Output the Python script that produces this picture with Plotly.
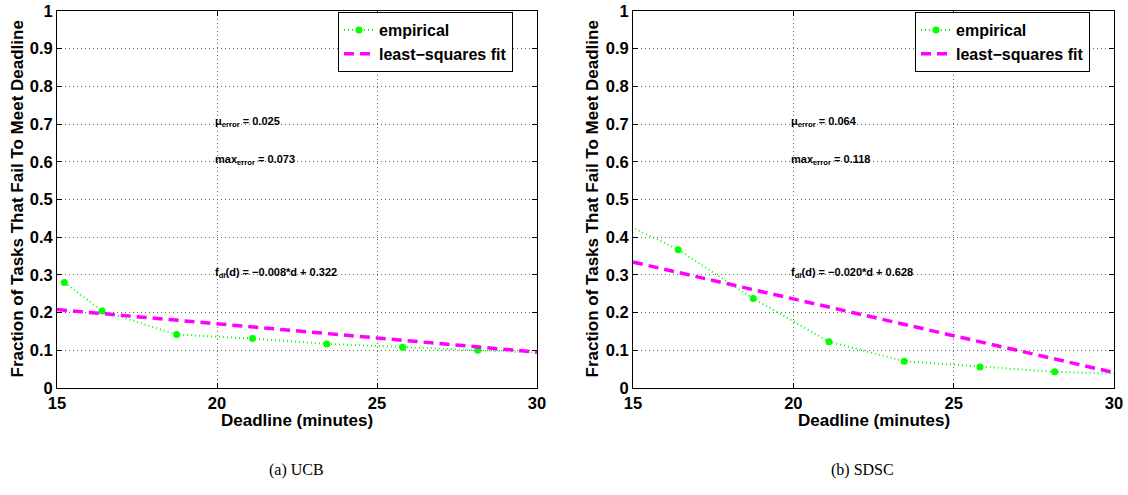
import plotly.graph_objects as go

# ---- data ----
ucb_deadline = [15.23, 16.41, 18.74, 21.11, 23.43, 25.80, 28.15, 30.50]
ucb_fail = [0.280, 0.204, 0.142, 0.131, 0.117, 0.108, 0.100, 0.093]
ucb_fit_x = [15, 30]
ucb_fit_y = [0.208, 0.095]

sdsc_deadline = [14.06, 16.41, 18.75, 21.11, 23.46, 25.82, 28.15, 30.50]
sdsc_fail = [0.464, 0.367, 0.2375, 0.123, 0.071, 0.056, 0.043, 0.037]
sdsc_fit_x = [15, 30]
sdsc_fit_y = [0.334, 0.041]

x_ticks = [15, 20, 25, 30]
y_ticks = [0, 0.1, 0.2, 0.3, 0.4, 0.5, 0.6, 0.7, 0.8, 0.9, 1]
y_tick_labels = ["0", "0.1", "0.2", "0.3", "0.4", "0.5", "0.6", "0.7", "0.8", "0.9", "1"]

ucb_stats = ["μ<sub>error</sub> = 0.025", "max<sub>error</sub> = 0.073",
             "f<sub>dl</sub>(d) = −0.008*d + 0.322"]
sdsc_stats = ["μ<sub>error</sub> = 0.064", "max<sub>error</sub> = 0.118",
              "f<sub>dl</sub>(d) = −0.020*d + 0.628"]
stat_y = [0.7, 0.6, 0.3]

captions = ["(a) UCB", "(b) SDSC"]
x_title = "Deadline (minutes)"
y_title = "Fraction of Tasks That Fail To Meet Deadline"
legend_names = ["empirical", "least−squares fit"]

GREEN = "#00ff00"
MAGENTA = "#ff00ff"
FONT = "Liberation Sans, Arial, sans-serif"

W, H = 1128, 495


def px(X):
    return X / W


def py(Y):
    return 1 - Y / H


fig = go.Figure()

panels = [
    (ucb_deadline, ucb_fail, ucb_fit_x, ucb_fit_y, "x", "y", "legend"),
    (sdsc_deadline, sdsc_fail, sdsc_fit_x, sdsc_fit_y, "x2", "y2", "legend2"),
]
for dx, dy, fx, fy, xa, ya, lg in panels:
    fig.add_trace(go.Scatter(
        x=dx, y=dy, mode="lines+markers", name="<b>" + legend_names[0] + "</b>",
        line=dict(color=GREEN, width=2, dash="1px,3px"),
        marker=dict(color=GREEN, size=7, symbol="circle"),
        xaxis=xa, yaxis=ya, legend=lg))
    fig.add_trace(go.Scatter(
        x=fx, y=fy, mode="lines", name="<b>" + legend_names[1] + "</b>",
        line=dict(color=MAGENTA, width=3.5, dash="10px,6px"),
        xaxis=xa, yaxis=ya, legend=lg))

ydom = [py(388), py(11)]
xdoms = [[px(57), px(537)], [px(633), px(1114)]]

axis_common = dict(
    showline=True, linecolor="black", linewidth=1, mirror="allticks",
    ticks="inside", ticklen=5, tickcolor="black",
    showgrid=True, gridcolor="#666666", griddash="1px,3px", gridwidth=1,
    zeroline=False, automargin=False, ticklabeloverflow="allow",
    tickfont=dict(family=FONT, size=16.5, color="black"),
)

xtext = ["<b>%d</b>" % v for v in x_ticks]
ytext = ["<b>%s</b>" % v for v in y_tick_labels]

legend_common = dict(xanchor="left", yanchor="top",
                     bgcolor="white", bordercolor="black", borderwidth=1,
                     font=dict(family=FONT, size=16, color="black"),
                     tracegroupgap=0, itemwidth=30)

fig.update_layout(
    template="none",
    width=W, height=H,
    margin=dict(l=0, r=0, t=0, b=0),
    paper_bgcolor="white", plot_bgcolor="white",
    xaxis=dict(domain=xdoms[0], range=[15, 30], tickvals=x_ticks, ticktext=xtext, anchor="y", **axis_common),
    yaxis=dict(domain=ydom, range=[0, 1], tickvals=y_ticks, ticktext=ytext, anchor="x", **axis_common),
    xaxis2=dict(domain=xdoms[1], range=[15, 30], tickvals=x_ticks, ticktext=xtext, anchor="y2", **axis_common),
    yaxis2=dict(domain=ydom, range=[0, 1], tickvals=y_ticks, ticktext=ytext, anchor="x2", **axis_common),
    legend=dict(x=px(338), y=py(12), **legend_common),
    legend2=dict(x=px(915), y=py(12), **legend_common),
    showlegend=True,
)

ann = []
for stats, xr, yr in [(ucb_stats, "x", "y"), (sdsc_stats, "x2", "y2")]:
    for txt, yv in zip(stats, stat_y):
        ann.append(dict(text="<b>" + txt + "</b>", x=20, y=yv, xref=xr, yref=yr, xanchor="left",
                        yanchor="middle", showarrow=False, xshift=-4, yshift=2,
                        font=dict(family=FONT, size=11, color="black")))

cap_x = [296, 862]
ytitle_x = [17, 592]
for i, dom in enumerate(xdoms):
    cx = (dom[0] + dom[1]) / 2
    ann.append(dict(text="<b>" + x_title + "</b>", x=cx, y=py(420), xref="paper", yref="paper",
                    xanchor="center", yanchor="middle", showarrow=False,
                    font=dict(family=FONT, size=17, color="black")))
    ann.append(dict(text=captions[i], x=px(cap_x[i]), y=py(470), xref="paper", yref="paper",
                    xanchor="center", yanchor="middle", showarrow=False,
                    font=dict(family="Liberation Serif", size=16, color="black")))
    ann.append(dict(text="<b>" + y_title + "</b>", x=px(ytitle_x[i]), y=(ydom[0] + ydom[1]) / 2,
                    xref="paper", yref="paper", textangle=-90,
                    xanchor="center", yanchor="middle", showarrow=False,
                    font=dict(family=FONT, size=17, color="black")))
fig.update_layout(annotations=ann)

# remove the default 8px page margin so the figure fills the window exactly
fig.write_html("out.html", config={"displayModeBar": False},
               post_script="document.body.style.margin='0';")
